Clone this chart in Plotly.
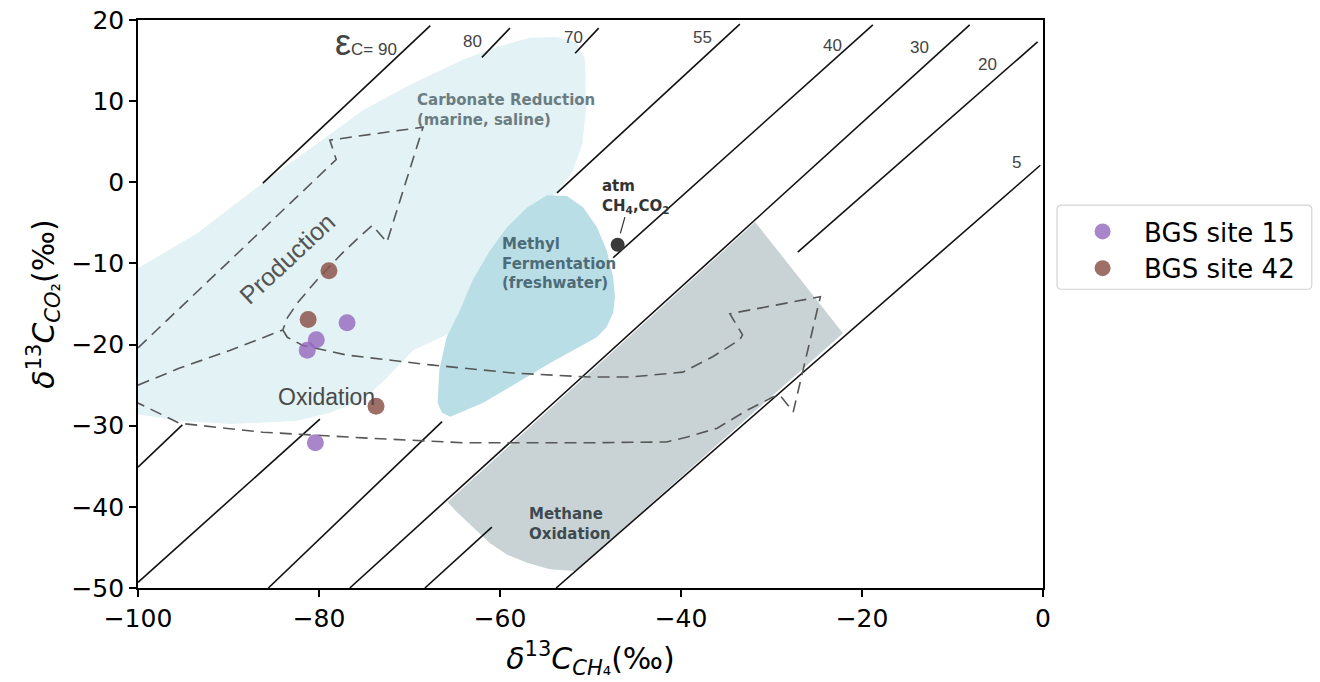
import plotly.graph_objects as go

# ---------------- data ----------------
site15_ch4 = [-80.4, -81.3, -80.3, -76.9]
site15_co2 = [-32.1, -20.7, -19.4, -17.3]
site42_ch4 = [-78.9, -81.2, -73.7]
site42_co2 = [-10.9, -16.9, -27.6]
atm_ch4 = [-47.0]
atm_co2 = [-7.7]

# isotope fractionation lines (epsilon_C), visible segments: [x0, y0, x1, y1]
eps_values = ["90", "80", "70", "55", "40", "30", "20", "5"]
eps_segments = [
    [[-86.2, -0.1, -67.7, 19.3]],
    [[-62.0, 15.4, -58.9, 19.0]],
    [[-51.7, 15.9, -49.1, 19.0], [-100.0, -35.1, -95.1, -29.9]],
    [[-53.7, -1.3, -33.5, 19.5], [-100.0, -49.3, -79.9, -29.2]],
    [[-47.5, -9.3, -18.8, 19.4], [-85.6, -50.0, -66.4, -29.5]],
    [[-76.6, -50.0, -8.1, 19.4]],
    [[-27.1, -8.6, -0.6, 17.3], [-68.3, -50.0, -60.9, -42.5]],
    [[-53.8, -50.0, -0.3, 2.1]],
]
eps_label_x = [-74.8, -63.0, -51.9, -37.6, -23.3, -13.6, -6.1, -2.9]
eps_label_y = [17.2, 17.3, 17.8, 17.9, 16.9, 16.6, 14.5, 2.4]

# genetic fields (outlines)
carb_ch4 = [-100, -93.5, -86.2, -80.2, -75.1, -69.6, -64.1, -60.3, -56.7, -53.7, -51.5, -50.6,
            -50.5, -50.9, -51.9, -53.7, -55.6, -60.0, -63.7, -65.9, -69.6, -72.5, -75.1, -78.8,
            -82.4, -89.8, -95.4, -100]
carb_co2 = [-10.6, -6.3, -0.1, 4.8, 8.9, 12.2, 15.1, 16.7, 17.8, 17.9, 17.2, 15.1,
            8.9, 4.8, 1.5, -1.3, -2.8, -8.4, -17.8, -18.8, -20.7, -24.1, -26.8, -28.4,
            -29.4, -29.8, -29.4, -28.6]
methyl_ch4 = [-54.8, -52.6, -50.8, -49.3, -48.2, -47.5, -47.3, -47.5, -48.2, -49.3, -51.9, -54.5,
              -58.1, -61.9, -65.5, -66.4, -66.9, -66.7, -65.9, -64.4, -63.0, -61.1, -59.2, -57.0]
methyl_co2 = [-1.6, -1.7, -3.1, -5.5, -8.4, -11.7, -14.1, -16.1, -17.8, -19.1, -20.7, -22.3,
              -24.7, -27.2, -28.9, -28.4, -27.2, -23.1, -19.1, -15.7, -12.0, -8.4, -5.5, -3.1]
mox_ch4 = [-31.8, -22.1, -51.7, -54.5, -57.0, -59.2, -61.1, -63.0, -64.8, -65.8]
mox_co2 = [-4.9, -18.6, -47.9, -47.7, -46.9, -45.9, -44.5, -42.5, -40.6, -39.4]

# dashed process arrows
prod_ch4 = [-100, -78.1, -78.8, -68.5, -72.5, -74.1, -75.5, -77.4, -80.2, -82.4, -83.5, -84.0]
prod_co2 = [-20.4, 2.8, 5.2, 6.8, -7.4, -5.3, -6.7, -8.7, -12.0, -14.9, -16.7, -18.2]
branch_ch4 = [-100, -95.4, -89.8, -84.6, -84.0]
branch_co2 = [-25.0, -22.9, -20.7, -18.5, -18.2]
oxid_ch4 = [-84.0, -83.5, -81.8, -76.9, -67.7, -58.6, -50.1, -45.6, -39.8, -36.5, -33.5, -33.2,
            -34.6, -24.6, -27.6, -29.1, -29.9, -32.7, -36.0, -39.3, -41.6, -50.1, -64.1, -75.1,
            -86.2, -95.4, -100]
oxid_co2 = [-18.2, -19.1, -20.1, -21.3, -22.5, -23.5, -24.0, -24.0, -23.4, -21.5, -19.4, -18.8,
            -16.2, -14.1, -28.3, -26.2, -26.5, -28.1, -30.3, -31.4, -32.0, -32.1, -32.1, -31.5,
            -30.8, -29.7, -27.2]
atm_tick_ch4 = [-46.2, -46.7]
atm_tick_co2 = [-4.3, -6.3]

fig = go.Figure()

def fill(xs, ys, color):
    fig.add_trace(go.Scatter(x=xs, y=ys, mode="lines", fill="toself", fillcolor=color,
                             line=dict(width=0, color=color), showlegend=False,
                             hoverinfo="skip"))

fill(carb_ch4, carb_co2, "#e3f2f4")
fill(methyl_ch4, methyl_co2, "#badee6")
fill(mox_ch4, mox_co2, "#c9d3d6")

# epsilon lines
lx, ly = [], []
for segs in eps_segments:
    for x0, y0, x1, y1 in segs:
        lx += [x0, x1, None]
        ly += [y0, y1, None]
fig.add_trace(go.Scatter(x=lx, y=ly, mode="lines", line=dict(color="#111111", width=1.6),
                         showlegend=False, hoverinfo="skip"))

dash_style = dict(color="#575757", width=1.6, dash="12px,7px")
for xs, ys in [(prod_ch4, prod_co2), (branch_ch4, branch_co2), (oxid_ch4, oxid_co2)]:
    fig.add_trace(go.Scatter(x=xs, y=ys, mode="lines", line=dash_style,
                             showlegend=False, hoverinfo="skip"))

fig.add_trace(go.Scatter(x=atm_tick_ch4, y=atm_tick_co2, mode="lines",
                         line=dict(color="#333333", width=1.2), showlegend=False, hoverinfo="skip"))
fig.add_trace(go.Scatter(x=atm_ch4, y=atm_co2, mode="markers",
                         marker=dict(size=14, color="#3a3a3a"), showlegend=False, hoverinfo="skip"))

fig.add_trace(go.Scatter(x=site15_ch4, y=site15_co2, mode="markers", name="BGS site 15",
                         marker=dict(size=17, color="#9467bd", opacity=0.8)))
fig.add_trace(go.Scatter(x=site42_ch4, y=site42_co2, mode="markers", name="BGS site 42",
                         marker=dict(size=17, color="#8c564b", opacity=0.85)))

ann = []
for i, v in enumerate(eps_values):
    txt = v if i else "<span style='font-size:36px'>ε</span>C= 90"
    ann.append(dict(x=eps_label_x[i], y=eps_label_y[i], text=txt, showarrow=False,
                    font=dict(family="Liberation Sans", size=17, color="#444444")))

ann += [
    dict(x=-69.4, y=8.9, text="Carbonate Reduction<br>(marine, saline)", xanchor="left",
         align="left", showarrow=False,
         font=dict(family="DejaVu Sans", size=15, color="#6b7d82", weight="bold")),
    dict(x=-60.0, y=-10.0, text="Methyl<br>Fermentation<br>(freshwater)", xanchor="left",
         align="left", showarrow=False,
         font=dict(family="DejaVu Sans", size=15, color="#4d6c78", weight="bold")),
    dict(x=-49.0, y=-1.7, text="atm<br>CH<sub>4</sub>,CO<sub>2</sub>", xanchor="left",
         align="left", showarrow=False,
         font=dict(family="DejaVu Sans", size=15, color="#333333", weight="bold")),
    dict(x=-57.0, y=-42.1, text="Methane<br>Oxidation", xanchor="left", align="left",
         showarrow=False, font=dict(family="DejaVu Sans", size=15, color="#3e4a4f", weight="bold")),
    dict(x=-83.5, y=-9.3, text="Production", textangle=-43, showarrow=False,
         font=dict(family="Liberation Sans", size=25, color="#555555")),
    dict(x=-79.2, y=-26.5, text="Oxidation", showarrow=False,
         font=dict(family="Liberation Sans", size=23, color="#4a4a4a")),
]

axis_common = dict(showline=True, mirror=True, linecolor="black", linewidth=1.6,
                   ticks="outside", ticklen=7, tickwidth=1.6, tickcolor="black",
                   showgrid=False, zeroline=False, automargin=False,
                   tickfont=dict(family="DejaVu Sans", size=25, color="black"))

# legend frame (rounded box) in paper coordinates
bx0, bx1, by0, by1 = 1.0155, 1.297, 0.526, 0.674
rx, ry = 0.005, 0.008
frame_path = (f"M {bx0+rx},{by1} L {bx1-rx},{by1} Q {bx1},{by1} {bx1},{by1-ry} "
              f"L {bx1},{by0+ry} Q {bx1},{by0} {bx1-rx},{by0} L {bx0+rx},{by0} "
              f"Q {bx0},{by0} {bx0},{by0+ry} L {bx0},{by1-ry} Q {bx0},{by1} {bx0+rx},{by1} Z")

fig.update_layout(
    width=1320, height=682,
    margin=dict(l=138, r=277, t=20, b=94, autoexpand=False),
    plot_bgcolor="white", paper_bgcolor="white",
    xaxis=dict(range=[-100, 0], tick0=-100, dtick=20, **axis_common,
               title=dict(text="<i>δ</i><sup>13</sup><i>C</i><sub><i>CH</i>₄</sub>(‰)",
                          font=dict(family="DejaVu Sans", size=30, color="black"), standoff=16)),
    yaxis=dict(range=[-50, 20], tick0=-50, dtick=10, **axis_common,
               title=dict(text="<i>δ</i><sup>13</sup><i>C</i><sub><i>CO</i>₂</sub>(‰)",
                          font=dict(family="DejaVu Sans", size=30, color="black"), standoff=8)),
    legend=dict(x=1.020, y=0.669, xanchor="left", yanchor="top", itemwidth=73,
                borderwidth=0, bgcolor="rgba(0,0,0,0)", tracegroupgap=0,
                font=dict(family="DejaVu Sans", size=26, color="black")),
    shapes=[dict(type="path", xref="paper", yref="paper", path=frame_path,
                 line=dict(color="#d3d3d3", width=1.2), fillcolor="rgba(0,0,0,0)", layer="below")],
    annotations=ann,
)

fig.write_html("out.html")
